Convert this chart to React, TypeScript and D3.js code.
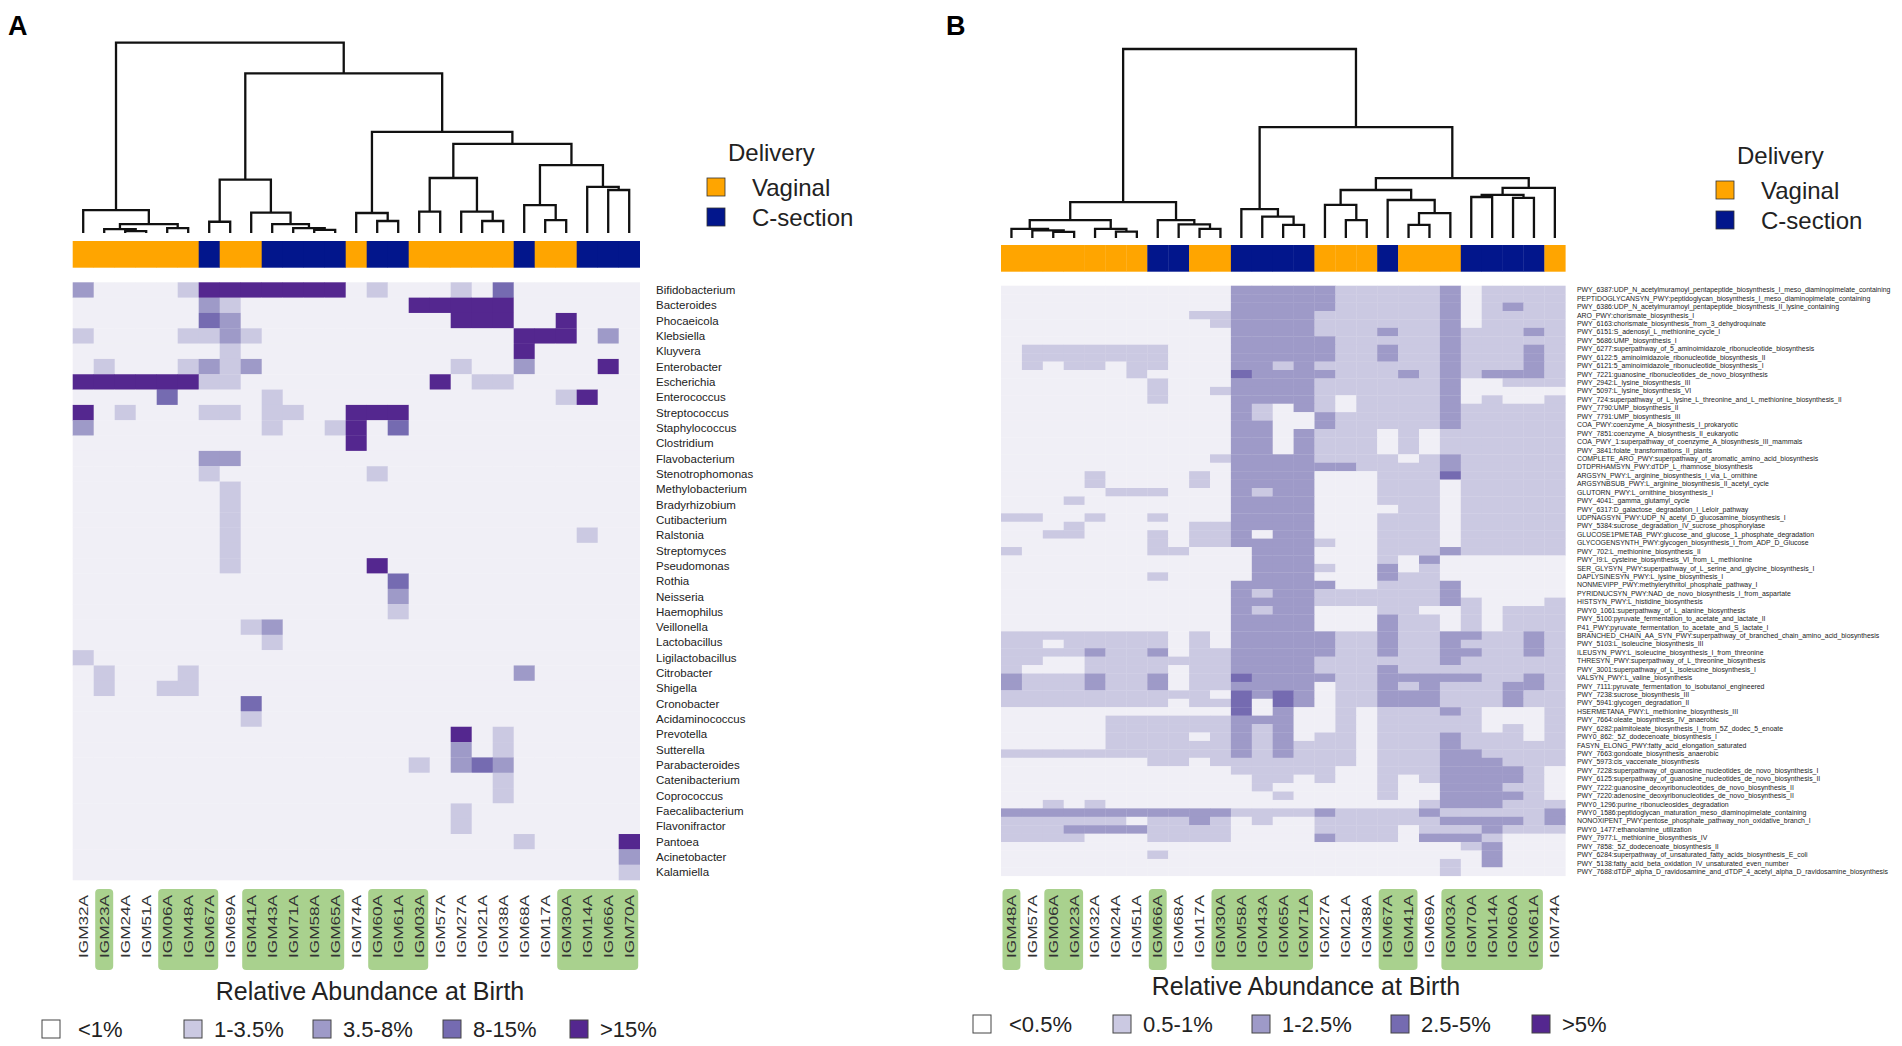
import { useEffect, useRef } from "react"
import * as d3 from "d3"

// Panel A: taxa x samples
const samplesA = [
  "IGM32A", "IGM23A", "IGM24A", "IGM51A", "IGM06A", "IGM48A", "IGM67A", "IGM69A", "IGM41A",
  "IGM43A", "IGM71A", "IGM58A", "IGM65A", "IGM74A", "IGM60A", "IGM61A", "IGM03A", "IGM57A",
  "IGM27A", "IGM21A", "IGM38A", "IGM68A", "IGM17A", "IGM30A", "IGM14A", "IGM66A", "IGM70A",
]

const taxaA = [
  "Bifidobacterium", "Bacteroides", "Phocaeicola", "Klebsiella", "Kluyvera", "Enterobacter",
  "Escherichia", "Enterococcus", "Streptococcus", "Staphylococcus", "Clostridium", "Flavobacterium",
  "Stenotrophomonas", "Methylobacterium", "Bradyrhizobium", "Cutibacterium", "Ralstonia",
  "Streptomyces", "Pseudomonas", "Rothia", "Neisseria", "Haemophilus", "Veillonella",
  "Lactobacillus", "Ligilactobacillus", "Citrobacter", "Shigella", "Cronobacter", "Acidaminococcus",
  "Prevotella", "Sutterella", "Parabacteroides", "Catenibacterium", "Coprococcus",
  "Faecalibacterium", "Flavonifractor", "Pantoea", "Acinetobacter", "Kalamiella",
]

// abundance class per cell (0..4), grouped by the delivery bar blocks
const abundanceA = [
  "200001 4 44 4444 0 10 00103 0 00 000",
  "000000 2 10 0000 0 00 44444 0 00 000",
  "000000 3 20 0000 0 00 00444 0 04 000",
  "100001 1 21 0000 0 00 00000 4 44 020",
  "000000 0 10 0000 0 00 00000 4 00 000",
  "010001 2 12 0000 0 00 00100 2 00 040",
  "444444 1 10 0000 0 00 04011 0 00 000",
  "000030 0 00 1000 0 00 00000 0 01 400",
  "401000 1 10 1100 4 44 00000 0 00 000",
  "200000 0 00 1001 4 03 00000 0 00 000",
  "000000 0 00 0000 4 00 00000 0 00 000",
  "000000 2 20 0000 0 00 00000 0 00 000",
  "000000 1 00 0000 0 10 00000 0 00 000",
  "000000 0 10 0000 0 00 00000 0 00 000",
  "000000 0 10 0000 0 00 00000 0 00 000",
  "000000 0 10 0000 0 00 00000 0 00 000",
  "000000 0 10 0000 0 00 00000 0 00 100",
  "000000 0 10 0000 0 00 00000 0 00 000",
  "000000 0 10 0000 0 40 00000 0 00 000",
  "000000 0 00 0000 0 03 00000 0 00 000",
  "000000 0 00 0000 0 02 00000 0 00 000",
  "000000 0 00 0000 0 01 00000 0 00 000",
  "000000 0 01 2000 0 00 00000 0 00 000",
  "000000 0 00 1000 0 00 00000 0 00 000",
  "100000 0 00 0000 0 00 00000 0 00 000",
  "010001 0 00 0000 0 00 00000 2 00 000",
  "010011 0 00 0000 0 00 00000 0 00 000",
  "000000 0 03 0000 0 00 00000 0 00 000",
  "000000 0 01 0000 0 00 00000 0 00 000",
  "000000 0 00 0000 0 00 00401 0 00 000",
  "000000 0 00 0000 0 00 00201 0 00 000",
  "000000 0 00 0000 0 00 10232 0 00 000",
  "000000 0 00 0000 0 00 00001 0 00 000",
  "000000 0 00 0000 0 00 00001 0 00 000",
  "000000 0 00 0000 0 00 00100 0 00 000",
  "000000 0 00 0000 0 00 00100 0 00 000",
  "000000 0 00 0000 0 00 00000 1 00 004",
  "000000 0 00 0000 0 00 00000 0 00 002",
  "000000 0 00 0000 0 00 00000 0 00 001",
]

// Panel B: pathways x samples
const samplesB = [
  "IGM48A", "IGM57A", "IGM06A", "IGM23A", "IGM32A", "IGM24A", "IGM51A", "IGM66A", "IGM68A",
  "IGM17A", "IGM30A", "IGM58A", "IGM43A", "IGM65A", "IGM71A", "IGM27A", "IGM21A", "IGM38A",
  "IGM67A", "IGM41A", "IGM69A", "IGM03A", "IGM70A", "IGM14A", "IGM60A", "IGM61A", "IGM74A",
]

const pathwaysB = [
  "PWY_6387:UDP_N_acetylmuramoyl_pentapeptide_biosynthesis_I_meso_diaminopimelate_containing",
  "PEPTIDOGLYCANSYN_PWY:peptidoglycan_biosynthesis_I_meso_diaminopimelate_containing",
  "PWY_6386:UDP_N_acetylmuramoyl_pentapeptide_biosynthesis_II_lysine_containing",
  "ARO_PWY:chorismate_biosynthesis_I",
  "PWY_6163:chorismate_biosynthesis_from_3_dehydroquinate",
  "PWY_6151:S_adenosyl_L_methionine_cycle_I",
  "PWY_5686:UMP_biosynthesis_I",
  "PWY_6277:superpathway_of_5_aminoimidazole_ribonucleotide_biosynthesis",
  "PWY_6122:5_aminoimidazole_ribonucleotide_biosynthesis_II",
  "PWY_6121:5_aminoimidazole_ribonucleotide_biosynthesis_I",
  "PWY_7221:guanosine_ribonucleotides_de_novo_biosynthesis",
  "PWY_2942:L_lysine_biosynthesis_III",
  "PWY_5097:L_lysine_biosynthesis_VI",
  "PWY_724:superpathway_of_L_lysine_L_threonine_and_L_methionine_biosynthesis_II",
  "PWY_7790:UMP_biosynthesis_II",
  "PWY_7791:UMP_biosynthesis_III",
  "COA_PWY:coenzyme_A_biosynthesis_I_prokaryotic",
  "PWY_7851:coenzyme_A_biosynthesis_II_eukaryotic",
  "COA_PWY_1:superpathway_of_coenzyme_A_biosynthesis_III_mammals",
  "PWY_3841:folate_transformations_II_plants",
  "COMPLETE_ARO_PWY:superpathway_of_aromatic_amino_acid_biosynthesis",
  "DTDPRHAMSYN_PWY:dTDP_L_rhamnose_biosynthesis",
  "ARGSYN_PWY:L_arginine_biosynthesis_I_via_L_ornithine",
  "ARGSYNBSUB_PWY:L_arginine_biosynthesis_II_acetyl_cycle",
  "GLUTORN_PWY:L_ornithine_biosynthesis_I",
  "PWY_4041:_gamma_glutamyl_cycle",
  "PWY_6317:D_galactose_degradation_I_Leloir_pathway",
  "UDPNAGSYN_PWY:UDP_N_acetyl_D_glucosamine_biosynthesis_I",
  "PWY_5384:sucrose_degradation_IV_sucrose_phosphorylase",
  "GLUCOSE1PMETAB_PWY:glucose_and_glucose_1_phosphate_degradation",
  "GLYCOGENSYNTH_PWY:glycogen_biosynthesis_I_from_ADP_D_Glucose",
  "PWY_702:L_methionine_biosynthesis_II",
  "PWY_I9:L_cysteine_biosynthesis_VI_from_L_methionine",
  "SER_GLYSYN_PWY:superpathway_of_L_serine_and_glycine_biosynthesis_I",
  "DAPLYSINESYN_PWY:L_lysine_biosynthesis_I",
  "NONMEVIPP_PWY:methylerythritol_phosphate_pathway_I",
  "PYRIDNUCSYN_PWY:NAD_de_novo_biosynthesis_I_from_aspartate",
  "HISTSYN_PWY:L_histidine_biosynthesis",
  "PWY0_1061:superpathway_of_L_alanine_biosynthesis",
  "PWY_5100:pyruvate_fermentation_to_acetate_and_lactate_II",
  "P41_PWY:pyruvate_fermentation_to_acetate_and_S_lactate_I",
  "BRANCHED_CHAIN_AA_SYN_PWY:superpathway_of_branched_chain_amino_acid_biosynthesis",
  "PWY_5103:L_isoleucine_biosynthesis_III",
  "ILEUSYN_PWY:L_isoleucine_biosynthesis_I_from_threonine",
  "THRESYN_PWY:superpathway_of_L_threonine_biosynthesis",
  "PWY_3001:superpathway_of_L_isoleucine_biosynthesis_I",
  "VALSYN_PWY:L_valine_biosynthesis",
  "PWY_7111:pyruvate_fermentation_to_isobutanol_engineered",
  "PWY_7238:sucrose_biosynthesis_III",
  "PWY_5941:glycogen_degradation_II",
  "HSERMETANA_PWY:L_methionine_biosynthesis_III",
  "PWY_7664:oleate_biosynthesis_IV_anaerobic",
  "PWY_6282:palmitoleate_biosynthesis_I_from_5Z_dodec_5_enoate",
  "PWY0_862:_5Z_dodecenoate_biosynthesis_I",
  "FASYN_ELONG_PWY:fatty_acid_elongation_saturated",
  "PWY_7663:gondoate_biosynthesis_anaerobic",
  "PWY_5973:cis_vaccenate_biosynthesis",
  "PWY_7228:superpathway_of_guanosine_nucleotides_de_novo_biosynthesis_I",
  "PWY_6125:superpathway_of_guanosine_nucleotides_de_novo_biosynthesis_II",
  "PWY_7222:guanosine_deoxyribonucleotides_de_novo_biosynthesis_II",
  "PWY_7220:adenosine_deoxyribonucleotides_de_novo_biosynthesis_II",
  "PWY0_1296:purine_ribonucleosides_degradation",
  "PWY0_1586:peptidoglycan_maturation_meso_diaminopimelate_containing",
  "NONOXIPENT_PWY:pentose_phosphate_pathway_non_oxidative_branch_I",
  "PWY0_1477:ethanolamine_utilization",
  "PWY_7977:L_methionine_biosynthesis_IV",
  "PWY_7858:_5Z_dodecenoate_biosynthesis_II",
  "PWY_6284:superpathway_of_unsaturated_fatty_acids_biosynthesis_E_coli",
  "PWY_5138:fatty_acid_beta_oxidation_IV_unsaturated_even_number",
  "PWY_7688:dTDP_alpha_D_ravidosamine_and_dTDP_4_acetyl_alpha_D_ravidosamine_biosynthesis",
]

const abundanceB = [
  "0000000 00 00 2222 211 1 11 2 0111 1",
  "0000000 00 00 2222 211 1 11 2 0111 1",
  "0000000 00 00 2222 211 1 11 2 0121 1",
  "0000000 00 11 2222 111 1 11 2 0111 1",
  "0000000 00 01 2222 111 1 11 2 0111 1",
  "0000000 00 00 2222 111 2 11 2 1112 1",
  "0000000 00 00 2222 211 1 11 2 1111 1",
  "0111111 10 00 2222 211 2 11 2 1112 1",
  "0111111 10 00 2222 211 2 11 2 1112 1",
  "0101101 10 00 2212 111 1 11 2 1112 1",
  "0000001 00 00 3222 211 1 21 2 1222 1",
  "0000000 10 00 2222 111 1 11 2 0011 1",
  "0000000 10 01 2222 111 1 11 2 0000 0",
  "0000000 10 00 2222 101 1 11 2 0100 1",
  "0000000 00 00 2102 101 1 11 2 1111 1",
  "0000000 00 00 2100 211 1 11 2 1111 1",
  "0000000 00 00 2200 211 1 11 2 1111 1",
  "0000000 00 00 2202 111 0 10 1 1111 1",
  "0000000 00 00 2202 111 0 10 1 1111 1",
  "0000000 00 00 2202 111 0 10 1 1111 1",
  "0000000 00 01 2222 111 1 01 2 1111 1",
  "0000000 00 00 2222 221 1 11 2 1111 1",
  "0000100 00 10 2222 000 1 11 3 1111 1",
  "0000100 00 10 2222 000 1 11 0 1111 1",
  "0000011 10 00 2122 000 1 11 0 1111 1",
  "0001000 00 00 2222 000 1 11 0 1111 1",
  "0000000 00 00 2222 000 0 11 0 1111 1",
  "1100100 10 00 2222 000 1 11 0 1111 1",
  "0001000 00 11 2222 000 1 11 0 1111 1",
  "0011000 10 11 2022 000 1 11 0 1111 1",
  "0000000 10 11 2222 100 1 11 0 1111 1",
  "1000000 11 00 0222 000 1 11 2 1111 1",
  "0000000 00 00 0222 000 1 02 0 0000 0",
  "0000000 00 00 0222 100 2 01 0 0000 0",
  "0000000 10 00 0222 000 2 11 0 0000 0",
  "0000000 00 00 2222 200 1 11 2 0000 0",
  "0000000 00 00 2122 111 1 11 2 0000 0",
  "0000000 00 00 2222 111 1 11 2 1000 1",
  "0000000 00 00 2122 000 1 10 0 1011 1",
  "0000000 00 00 2222 000 2 11 0 1011 1",
  "0000000 00 00 2222 000 2 11 0 1011 1",
  "1111111 10 10 2222 211 2 11 2 2112 1",
  "1101111 10 10 2222 211 2 11 2 1112 1",
  "1111211 20 11 2222 211 2 11 2 2112 1",
  "1100111 11 11 2222 111 1 11 2 1111 1",
  "1000111 10 11 2222 111 2 11 1 1111 1",
  "2111211 20 11 3222 211 2 22 2 2112 1",
  "2111211 20 11 2222 011 2 12 1 1122 1",
  "1111111 11 10 3232 011 2 22 1 1121 1",
  "1111111 10 11 3032 011 2 22 1 1121 1",
  "0000000 00 00 3020 010 1 11 2 1000 1",
  "0000011 11 11 2220 010 1 11 1 1000 1",
  "0000011 11 11 2120 010 1 11 1 1010 1",
  "0000011 11 01 2120 110 1 11 2 1110 1",
  "0000011 11 11 2121 110 1 11 2 1111 1",
  "1111111 11 11 2121 110 1 11 2 2111 1",
  "0000000 11 01 1111 110 1 11 2 2211 1",
  "0000000 00 00 1111 100 1 11 2 2221 0",
  "0000000 00 00 0110 100 1 01 2 2221 0",
  "0000000 00 00 0100 000 1 00 2 2211 0",
  "0000000 00 00 0010 000 1 00 2 2221 0",
  "0010100 00 00 0000 000 0 01 2 2211 1",
  "2222222 22 22 1111 211 1 12 1 1111 2",
  "1111110 11 21 0100 111 1 11 2 2221 2",
  "1112222 11 11 0000 111 1 01 1 1211 1",
  "1111000 11 11 0000 211 1 02 2 2100 0",
  "0000000 00 00 0000 000 0 00 0 1200 0",
  "0000000 10 00 0000 000 0 00 0 0200 0",
  "0000000 00 00 0000 000 0 00 1 0200 0",
  "0000000 00 00 0000 000 0 00 1 0000 0",
]

const cSectionSamples = [
  "IGM67A", "IGM43A", "IGM71A", "IGM58A", "IGM65A", "IGM60A",
  "IGM61A", "IGM68A", "IGM14A", "IGM66A", "IGM70A",
]

const highlightedSamples = [
  "IGM23A", "IGM06A", "IGM48A", "IGM67A", "IGM41A", "IGM43A", "IGM71A", "IGM58A",
  "IGM65A", "IGM60A", "IGM61A", "IGM03A", "IGM30A", "IGM14A", "IGM66A", "IGM70A",
]

const deliveryLabels = ["Vaginal", "C-section"]
const legendLabelsA = ["<1%", "1-3.5%", "3.5-8%", "8-15%", ">15%"]
const legendLabelsB = ["<0.5%", "0.5-1%", "1-2.5%", "2.5-5%", ">5%"]

// dendrograms: [height, left, right], leaves are column indices
const dendroA = [1,
  [0.12, 0, [0.047, [0.02, 1, [0.01, 2, 3]], [0.026, 4, 5]]],
  [0.839,
    [0.28, [0.059, 6, 7], [0.107, 8, [0.047, 9, [0.026, 10, [0.016, 11, 12]]]]],
    [0.531,
      [0.105, 13, [0.063, 14, 15]],
      [0.468,
        [0.289, [0.112, 16, 17], [0.112, 18, [0.063, 19, 20]]],
        [0.357, [0.147, 21, [0.068, 22, 23]], [0.242, 24, [0.226, 25, 26]]]]]]]

const dendroB = [1,
  [0.19,
    [0.095, [0.048, 0, [0.04, 1, [0.032, 2, 3]]], [0.048, 4, [0.034, 5, 6]]],
    [0.095, 7, [0.072, 8, [0.048, 9, 10]]]],
  [0.587,
    [0.153, 11, [0.113, 12, [0.069, 13, 14]]],
    [0.317,
      [0.254, [0.175, 15, [0.095, 16, 17]], [0.201, 18, [0.132, [0.069, 19, 20], 21]]],
      [0.265, [0.228, [0.217, 22, 23], [0.212, 24, 25]], 26]]]]

const levelColors = ["#f0eff6", "#cbc9e2", "#9e9ac8", "#756bb1", "#54278f"]
const vaginalColor = "#ffa500"
const cSectionColor = "#02168c"
const highlightColor = "#a9d18e"
const font = "'Liberation Sans', Arial, sans-serif"

const layoutA = {
  letter: "A", letterX: 8, heatX: [72.7, 639.7], heatY: [282.3, 880], barY: [241, 267.7],
  dendro: [233, 42.7], rowLabelX: 656, rowFont: 11.5, colLabelY: 895, box: [889, 970],
  deliveryX: 707, deliveryY: 161, titleX: 370, titleY: 1000,
  legendX: [42, 184, 313, 443, 570], legendY: 1020,
}

const layoutB = {
  letter: "B", letterX: 946, heatX: [1001, 1565.3], heatY: [285.7, 875.8], barY: [245, 271.7],
  dendro: [238, 49], rowLabelX: 1577, rowFont: 6.9, colLabelY: 895, box: [889, 970],
  deliveryX: 1716, deliveryY: 164, titleX: 1306, titleY: 995,
  legendX: [973, 1113, 1252, 1391, 1532], legendY: 1015,
}

function drawPanel(svg, samples, rows, values, tree, legendLabels, L) {
  const g = svg.append("g").style("font-family", font)
  const x = d3.scaleBand().domain(samples).range(L.heatX)
  const y = d3.scaleBand().domain(rows).range(L.heatY)
  const color = d3.scaleOrdinal().domain([0, 1, 2, 3, 4]).range(levelColors)

  // heatmap
  const cells = rows.flatMap((r, i) =>
    values[i].replace(/ /g, "").split("").map((v, j) => ({ row: r, sample: samples[j], level: +v })),
  )
  g.append("g")
    .selectAll("rect")
    .data(cells)
    .join("rect")
    .attr("x", (d) => x(d.sample))
    .attr("y", (d) => y(d.row))
    .attr("width", x.bandwidth() + 0.3)
    .attr("height", y.bandwidth() + 0.3)
    .attr("fill", (d) => color(d.level))

  // row labels
  g.append("g")
    .selectAll("text")
    .data(rows)
    .join("text")
    .attr("x", L.rowLabelX)
    .attr("y", (d) => y(d) + y.bandwidth() / 2)
    .attr("dy", "0.35em")
    .attr("font-size", L.rowFont)
    .attr("fill", "#222")
    .text((d) => d)

  // delivery bar
  g.append("g")
    .selectAll("rect")
    .data(samples)
    .join("rect")
    .attr("x", (d) => x(d))
    .attr("y", L.barY[0])
    .attr("width", x.bandwidth() + 0.3)
    .attr("height", L.barY[1] - L.barY[0])
    .attr("fill", (d) => (cSectionSamples.includes(d) ? cSectionColor : vaginalColor))

  // dendrogram
  const h = d3.scaleLinear().domain([0, 1]).range(L.dendro)
  const root = d3.hierarchy(tree, (d) => (Array.isArray(d) ? [d[1], d[2]] : null))
  const pos = new Map()
  root.eachAfter((n) => {
    if (!n.children) {
      pos.set(n, [x(samples[n.data]) + x.bandwidth() / 2, L.dendro[0]])
    } else {
      const [a, b] = n.children.map((c) => pos.get(c))
      pos.set(n, [(a[0] + b[0]) / 2, h(n.data[0])])
    }
  })
  g.append("g")
    .selectAll("path")
    .data(root.descendants().filter((n) => n.children))
    .join("path")
    .attr("d", (n) => {
      const [a, b] = n.children.map((c) => pos.get(c))
      const ny = pos.get(n)[1]
      return `M${a[0]},${a[1]}V${ny}H${b[0]}V${b[1]}`
    })
    .attr("fill", "none")
    .attr("stroke", "#111")
    .attr("stroke-width", 2.3)

  // highlight boxes behind column labels
  const runs = []
  samples.forEach((s, i) => {
    if (!highlightedSamples.includes(s)) return
    const last = runs[runs.length - 1]
    if (last && last[1] === i - 1) last[1] = i
    else runs.push([i, i])
  })
  g.append("g")
    .selectAll("rect")
    .data(runs)
    .join("rect")
    .attr("x", (d) => x(samples[d[0]]) + 1.5)
    .attr("y", L.box[0])
    .attr("width", (d) => (d[1] - d[0] + 1) * x.bandwidth() - 3)
    .attr("height", L.box[1] - L.box[0])
    .attr("rx", 4)
    .attr("fill", highlightColor)

  g.append("g")
    .selectAll("text")
    .data(samples)
    .join("text")
    .attr("transform", (d) => `translate(${x(d) + x.bandwidth() / 2},${L.colLabelY}) rotate(-90)`)
    .attr("text-anchor", "end")
    .attr("dy", "0.35em")
    .attr("font-size", 12.5)
    .attr("textLength", 63)
    .attr("lengthAdjust", "spacingAndGlyphs")
    .attr("fill", "#333")
    .text((d) => d)

  // panel letter
  g.append("text")
    .attr("x", L.letterX)
    .attr("y", 35)
    .attr("font-size", 27)
    .attr("font-weight", "bold")
    .text(L.letter)

  // delivery legend
  const dl = g.append("g").attr("transform", `translate(${L.deliveryX},${L.deliveryY})`)
  dl.append("text").attr("x", 21).attr("font-size", 24).attr("fill", "#222").text("Delivery")
  deliveryLabels.forEach((lab, i) => {
    dl.append("rect")
      .attr("x", 0)
      .attr("y", 17 + i * 30)
      .attr("width", 18)
      .attr("height", 18)
      .attr("fill", i === 0 ? vaginalColor : cSectionColor)
      .attr("stroke", "#333")
      .attr("stroke-width", 0.8)
    dl.append("text")
      .attr("x", 45)
      .attr("y", 35 + i * 30)
      .attr("font-size", 24)
      .attr("fill", "#222")
      .text(lab)
  })

  // abundance legend
  g.append("text")
    .attr("x", L.titleX)
    .attr("y", L.titleY)
    .attr("text-anchor", "middle")
    .attr("font-size", 25)
    .attr("fill", "#222")
    .text("Relative Abundance at Birth")
  legendLabels.forEach((lab, i) => {
    g.append("rect")
      .attr("x", L.legendX[i])
      .attr("y", L.legendY)
      .attr("width", 18)
      .attr("height", 18)
      .attr("fill", i === 0 ? "#fff" : levelColors[i])
      .attr("stroke", "#444")
      .attr("stroke-width", 1)
    g.append("text")
      .attr("x", L.legendX[i] + (i === 0 ? 36 : 30))
      .attr("y", L.legendY + 17)
      .attr("font-size", 22)
      .attr("fill", "#222")
      .text(lab)
  })
}

const App = () => {
  const svgRef = useRef(null)

  useEffect(() => {
    if (!svgRef.current) return
    const svg = d3.select(svgRef.current)
    svg.selectAll("*").remove()
    drawPanel(svg, samplesA, taxaA, abundanceA, dendroA, legendLabelsA, layoutA)
    drawPanel(svg, samplesB, pathwaysB, abundanceB, dendroB, legendLabelsB, layoutB)
  }, [])

  return (
    <div style={{ position: "absolute", left: 0, top: 0, background: "#fff" }}>
      <svg ref={svgRef} width={1902} height={1046} style={{ display: "block" }} />
    </div>
  )
}

export default App
